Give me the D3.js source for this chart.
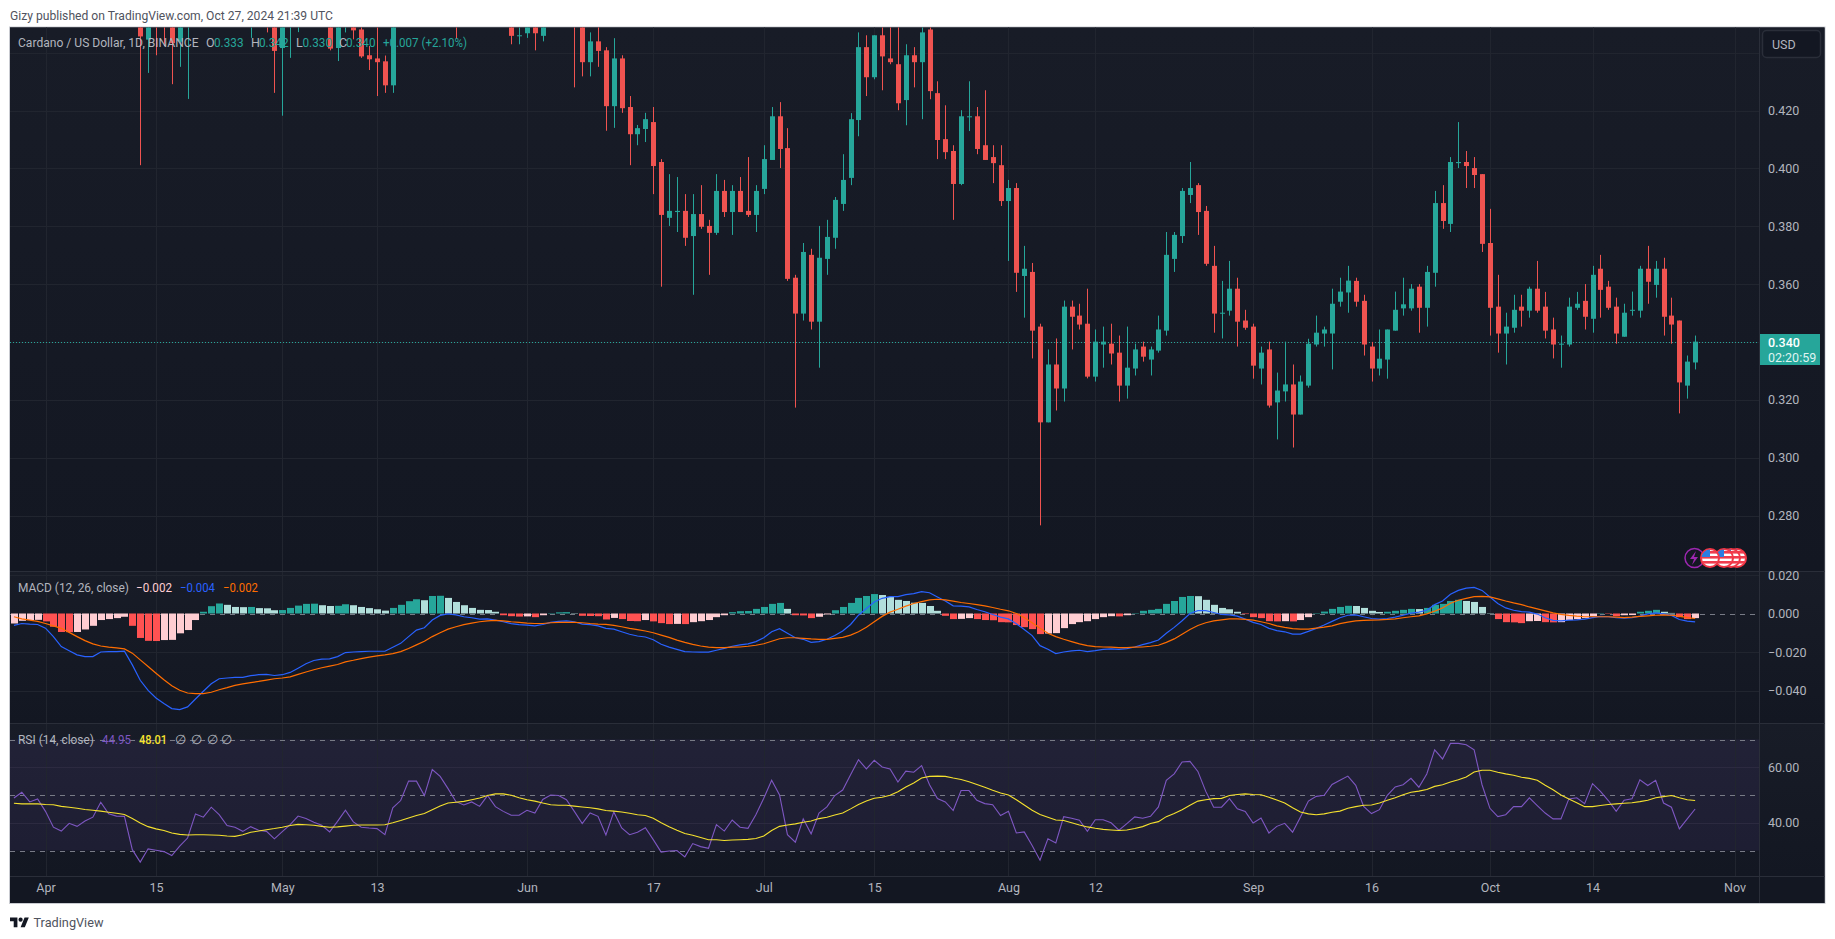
<!DOCTYPE html>
<html><head><meta charset="utf-8">
<script src="https://cdnjs.cloudflare.com/ajax/libs/d3/7.8.5/d3.min.js"></script>
<style>html,body{margin:0;background:#fff;overflow:hidden}svg{display:block}text{font-family:"Roboto",sans-serif}</style>
</head><body><svg id="c" width="1835" height="939"></svg>
<script>
// ---- DATA ----
const candleStart = Date.UTC(2024, 3, 13);
const candleOpen = [.452,.4445,.458,.455,.452,.4438,.451,.456,.462,.465,.468,.472,.47,.466,.452,.458,.456,.452,.4416,.452,.455,.46,.463,.46,.455,.4416,.451,.452,.448,.4391,.438,.437,.4287,.456,.46,.463,.466,.47,.468,.462,.455,.451,.455,.458,.46,.456,.454,.452,.4459,.4467,.452,.4458,.452,.456,.46,.456,.451,.4367,.4439,
.4408,.4215,.438,.4212,.4118,.4136,.416,.4022,.3829,.3849,.3853,.3766,.3842,.3801,.3777,.3922,.3849,.3922,.3853,.3839,.3929,.4029,.418,.407,.3622,.3498,.3701,.347,.3687,.376,.3877,.3967,.4167,.4419,.4315,.446,.438,.436,.4236,.4391,.4367,.448,.426,.4101,.406,.3946,.4177,.418,.408,.4039,.4011,.3887,.3932,.3628,.3642,.3453,.3122,.3322,.3239,.3522,.3491,.3463,.328,.3391,.3394,.3363,.3249,.3308,.3384,.3339,.337,.3439,.3687,.3766,.3908,.3942,.3853,.3663,.3498,.3508,.3584,.3474,.3453,.3308,.3374,.3191,.3229,.3253,.3149,.3249,.3391,.3429,.3429,.3539,.3571,.3611,.3542,.3384,.3308,.3339,.3439,.3516,.3516,.3591,.3518,.3639,.388,.3808,.4018,.4022,.4001,.398,.3742,.3522,.3429,.3449,.3522,.3508,.3584,.3522,.3443,.3391,.3391,.3518,.3542,.348,.3653,.3591,.3522,.3418,.3508,.3508,.3653,.3597,.3653,.3491,.3474,.3249,.3329];
const candleClose = [.4456,.452,.4515,.452,.4433,.45,.456,.462,.465,.468,.472,.47,.466,.46,.458,.456,.451,.4406,.455,.457,.46,.463,.46,.456,.4414,.452,.456,.4477,.4387,.4377,.4367,.4287,.456,.46,.463,.466,.47,.468,.462,.456,.451,.455,.458,.46,.456,.454,.452,.4458,.446,.452,.4467,.452,.456,.46,.456,.451,.4367,.4439,.4406,
.4215,.438,.4208,.4118,.4139,.417,.4008,.3839,.3853,.3853,.376,.3842,.3798,.3777,.3922,.3849,.3922,.3849,.3839,.3922,.4032,.418,.4067,.3618,.3498,.3711,.347,.3691,.3763,.3891,.396,.417,.4419,.4315,.446,.4387,.4367,.4225,.4391,.4367,.447,.4267,.4098,.4056,.3946,.418,.418,.4067,.4029,.4018,.3887,.3932,.3639,.3653,.3439,.3122,.3322,.3239,.3522,.3487,.346,.328,.3401,.3401,.336,.3249,.3311,.3374,.3349,.3374,.3443,.3701,.377,.3922,.3932,.3849,.367,.3498,.3501,.3584,.347,.3449,.3318,.3363,.318,.3232,.3253,.3149,.3263,.3394,.3432,.3443,.3532,.3574,.3612,.3539,.3391,.3308,.3342,.3443,.3511,.353,.3584,.3518,.3642,.388,.3818,.4022,.4022,.4008,.3977,.3739,.3518,.3429,.3453,.3511,.3508,.3584,.3508,.3439,.3391,.3394,.3522,.3532,.3487,.3632,.358,.3518,.3429,.3501,.3511,.3653,.3608,.3653,.3487,.346,.326,.3332,.3401];
const candleHigh = [.456,.455,.46,.458,.456,.455,.46,.466,.468,.471,.475,.474,.472,.468,.462,.46,.46,.455,.458,.46,.463,.466,.466,.462,.458,.456,.46,.455,.452,.4423,.452,.439,.46,.463,.466,.469,.473,.473,.47,.464,.458,.458,.46,.463,.463,.459,.456,.456,.453,.455,.455,.455,.458,.462,.463,.46,.455,.447,.452,
.4419,.445,.4391,.425,.415,.4192,.4212,.4032,.398,.397,.3911,.3911,.3942,.3822,.398,.396,.3942,.397,.4039,.3942,.408,.4212,.4229,.4139,.3632,.3742,.3722,.3801,.3822,.3901,.4049,.4191,.447,.446,.446,.452,.452,.452,.4429,.4419,.452,.452,.4301,.4218,.408,.4201,.4301,.4212,.427,.408,.408,.396,.3949,.3732,.3673,.3463,.3374,.3412,.3543,.3543,.3532,.3584,.3443,.3453,.3463,.3422,.3453,.3394,.3401,.3384,.3491,.378,.378,.3932,.4022,.3949,.387,.3732,.3611,.368,.3622,.3511,.3463,.3384,.3401,.3294,.3401,.3322,.3284,.3411,.3491,.3453,.3584,.3622,.3663,.3622,.3563,.34,.3443,.3443,.3574,.3622,.36,.36,.3663,.3922,.3942,.4039,.416,.406,.4039,.398,.386,.3632,.3501,.3563,.3563,.3591,.368,.3573,.3484,.3422,.3553,.3573,.36,.3663,.3701,.3611,.3553,.3532,.3574,.3663,.3732,.368,.3691,.3553,.3474,.3353,.3422];
const candleLow = [.4011,.433,.4391,.4423,.4291,.4351,.424,.454,.459,.462,.465,.467,.463,.457,.4451,.454,.447,.4261,.4182,.4382,.4471,.458,.457,.453,.4408,.4371,.447,.4446,.4382,.434,.425,.4261,.4261,.453,.457,.46,.463,.465,.46,.453,.4448,.45,.453,.456,.454,.452,.451,.4429,.4429,.4451,.4408,.4439,.45,.454,.454,.428,.4318,.4318,.4351,
.413,.414,.4192,.4011,.408,.4091,.3911,.3591,.3801,.378,.3732,.3563,.3791,.3632,.377,.3832,.377,.3849,.3832,.378,.3911,.4029,.4001,.3611,.3173,.3474,.3443,.3311,.3632,.3722,.3853,.3942,.4111,.425,.4308,.427,.436,.4201,.4149,.428,.417,.4239,.4032,.4032,.3822,.3942,.4129,.4049,.4029,.3949,.387,.368,.3573,.3484,.3343,.2766,.3122,.3163,.3194,.3374,.3443,.3274,.3263,.3311,.3322,.3194,.3204,.3284,.3332,.3284,.3363,.3422,.3642,.3742,.388,.377,.3663,.3432,.3412,.3491,.3384,.3442,.3273,.3253,.3173,.3063,.3194,.3035,.3149,.3242,.3384,.3384,.3305,.3522,.3501,.3522,.3353,.3263,.3284,.3273,.3439,.3491,.3508,.3432,.3453,.3591,.3791,.378,.4001,.3932,.3932,.3711,.3422,.3363,.3322,.3432,.3453,.3484,.3501,.3412,.3343,.3311,.3384,.3511,.3443,.3432,.3484,.3511,.3394,.3418,.3491,.3484,.3532,.3553,.3422,.3394,.3153,.3204,.3305];

const paneStart = Date.UTC(2024, 2, 28);
// MACD pane values, in thousandths
const macdHist = [-5.2,-3.8,-3.4,-3.3,-4.1,-6.9,-9.6,-9.7,-9.6,-8.3,-6.4,-3.4,-2.9,-2.4,-1.7,-6.4,-12.7,-14.2,-14.3,-13.8,-13.7,-10.3,-8.6,-3.4,.9,3.8,5.2,4.5,3.4,3.3,3.4,2.8,2.7,1.7,1.8,2.9,4.1,5,5.1,4.3,3.9,4,4.8,4.3,3.4,2.8,2.2,1.5,2.9,4.5,6.4,7.4,6.9,9.1,9.2,8.1,6,4.3,2.9,1.9,1.8,.9,-.9,-1.4,-1.6,-1.5,-1.9,-.9,.2,.6,.7,.2,-1.2,-1.3,-1.4,-3.1,-2.3,-2.9,-3.9,-4,-3.4,-4.1,-5,-5.5,-5.4,-5.5,-4.5,-4,-3.4,-1.9,-.9,.7,1.2,1.3,2.4,3.4,5,5.5,2.4,-.9,-1,-2.4,-1.7,-.5,1.7,3.4,5.5,8.1,9.1,10.1,9.6,8.6,7.1,6.5,5.6,5.5,3.9,1.4,-1.2,-2.9,-2.8,-2.4,-2.9,-3.4,-3.5,-4.5,-4.6,-6,-7.1,-8.1,-10.7,-10.4,-10.2,-7.6,-5.5,-4.5,-4,-2.9,-1.9,-1.4,-1.5,-.9,.2,1.4,1.9,2.4,5,6.5,8.6,9.1,9,7.1,4.5,2.9,2.2,.9,-.3,-1.9,-2.4,-4,-4.1,-4,-4.1,-3.4,-1.9,.2,1,2.4,3.4,4,3.9,2.9,1.4,.8,.9,1.4,1.9,2.4,2.3,2.9,4.5,5,6.5,7.1,6.5,6,3.4,.2,-2.9,-4.5,-4.6,-5,-4,-3.9,-4.5,-4.6,-4.5,-3.4,-2.9,-2.4,-1.4,.2,-.2,-1.4,-.9,-.8,.9,1.4,1.9,.9,.3,-1.9,-2.9,-2.4];
const macdLine = [-6.2,-5.2,-5.5,-5.7,-7.6,-12,-17.2,-19.4,-21.5,-22.4,-22.4,-20,-19.8,-19.8,-19.6,-26.7,-34.7,-39.9,-43.9,-46.8,-49.4,-49.9,-48.5,-44.4,-40.4,-36.5,-33.9,-33.5,-33.2,-33.2,-32.3,-31.8,-31.6,-32.2,-31.8,-30.6,-28.4,-26.1,-24.4,-23.7,-23.6,-22.4,-20.3,-20,-19.8,-19.6,-19.6,-19.6,-17.5,-15.5,-12,-8.6,-7.4,-3.4,-1,-.2,-.7,-1.7,-2.2,-2.9,-2.8,-3.4,-4.3,-5.3,-5.8,-6,-6.4,-5.7,-4.6,-4.1,-3.8,-4.3,-5.5,-5.8,-6.4,-7.7,-8.1,-9.5,-10.8,-11.7,-12.2,-13.6,-16,-17.5,-18.6,-19.8,-20,-20.1,-20.1,-19.1,-18.1,-17,-16.3,-15.8,-14.6,-12.6,-9.5,-7.9,-10.3,-12.6,-13.4,-15,-14.6,-13.4,-11.4,-9.1,-5.7,-.9,2.6,6,7.9,8.8,8.8,9.8,10.3,11.4,10.8,8.6,6.5,4,3.8,3.4,2.1,.9,-.5,-1.9,-2.8,-5.3,-8.3,-11.5,-16.7,-18.6,-20.8,-20,-19.4,-19.1,-19.8,-19.3,-18.6,-18.4,-18.6,-18.2,-17.4,-16.2,-15.1,-13.8,-10.3,-7.2,-3.8,0,1.5,1.5,.5,-.5,-.7,-1.4,-2.9,-4.6,-5.7,-7.7,-8.9,-9.5,-10.7,-10.7,-9.3,-7.7,-6,-4.1,-2.2,-.9,-.7,-1.7,-2.6,-2.9,-2.6,-1.9,-.9,.2,.7,1.7,4.6,6.5,10,12,13.2,13.6,12,8.6,5.2,2.9,1.7,1,.7,-.3,-2.2,-3.6,-3.8,-3.4,-3.3,-2.9,-2.1,-1.5,-1.7,-2.2,-2.4,-2.2,-1.4,-.2,.3,-.2,-1,-3.1,-4,-4.3];
const macdSignal = [-1.7,-2.8,-3.4,-4.1,-5.2,-6.4,-7.7,-9.8,-12,-14.1,-15.8,-16.9,-17.5,-17.9,-18.4,-20.6,-24.1,-27.5,-31,-34.4,-37.5,-39.9,-41.3,-41.6,-41.6,-40.9,-39.6,-38.5,-37.3,-36.6,-35.9,-35.3,-34.6,-33.9,-33.5,-32.9,-31.6,-30.4,-29.2,-28.2,-27.3,-26.5,-25.1,-24.3,-23.4,-22.7,-22,-21.5,-20.8,-19.8,-18.2,-16.3,-14.4,-12,-10,-8.1,-6.9,-5.8,-5,-4.3,-3.8,-3.6,-3.8,-4.3,-4.6,-5,-5.2,-5.2,-4.8,-4.6,-4.6,-4.6,-4.8,-5.2,-5.5,-5.7,-6.2,-6.9,-7.7,-8.4,-9.1,-10,-11.2,-12.4,-13.8,-15,-16,-16.9,-17.5,-17.7,-17.7,-17.5,-17.4,-17,-16.5,-15.7,-14.4,-13.1,-12.6,-12.6,-12.9,-13.2,-13.4,-13.4,-12.9,-12.4,-11.2,-9.5,-7.2,-4.3,-1.5,.7,2.2,3.8,5.2,6.2,7.1,7.4,7.1,6.4,5.7,5.2,4.6,4,3.1,2.2,1.4,0,-2.1,-4.8,-7.7,-10.3,-12,-13.4,-14.6,-15.8,-16.7,-17.2,-17.4,-17.5,-17.7,-17.7,-17.5,-17.4,-17,-16.5,-15,-13.2,-10.8,-8.3,-6.2,-4.8,-3.8,-3.3,-2.8,-2.8,-3.1,-3.4,-4.3,-5.2,-6.4,-7.2,-7.9,-8.1,-8.1,-7.6,-7.1,-6.4,-5.3,-4.5,-3.8,-3.6,-3.4,-3.3,-3.1,-2.8,-2.2,-1.7,-1.2,-.2,1.2,2.9,5.3,6.9,7.9,8.8,8.9,8.6,7.6,6.5,5.5,4.6,3.4,2.4,1.4,.3,-.5,-1,-1.4,-1.7,-1.7,-1.7,-1.7,-1.9,-2.1,-1.9,-1.5,-1.2,-.9,-.7,-.9,-1.4,-2.1,-2.6];
const rsiLine = [48.9,51,47.5,48.6,44.1,38.4,37,39.8,38.7,40.6,42,47.4,43.2,42.4,42.3,30.3,25.8,30.6,30.1,29.6,28.2,31.6,34.5,43.2,42,45.6,42.9,39,38.4,36.9,38.6,37.3,36.9,34.2,36.8,39.3,42.4,41.5,40.2,39.1,36.7,40.5,44.5,40.3,38.4,38.1,37.9,35.7,45.4,48,55,55,49.8,59.2,56.7,52.3,47.6,46.4,47.5,45.9,49.8,45.8,44.1,42.7,42.7,44.5,43.5,48.4,50,49.8,48.3,44.1,39.7,43.5,42.3,35.6,43.9,38.1,35.7,36.6,38.2,33.9,29.4,29.8,30,27.7,32.5,31.4,30.8,39.3,37,41,38.4,38,42.9,48.8,55.3,50,35.7,33,41.4,36,43.5,45.7,49.8,51.8,57.3,62.7,59.4,62.5,60.1,59.4,54.7,58.6,58.2,60.6,53.7,48.7,47.5,44.4,51.6,51.6,48.1,46.9,46.5,42.6,44.1,36.3,36.7,31.8,26.5,34.2,32.7,42.2,41.6,40.9,36.9,41.1,41.1,40,37.3,39.7,42.1,41.6,42.3,45.7,55.3,57.6,61.9,62.1,58.5,51.3,45.6,45.6,48.7,45,44.1,39.9,41.7,36.3,38.7,39.8,36.6,42.1,47.8,49.5,49.9,53.8,55.3,56.8,53.5,45.9,43.3,44.7,49.9,52.9,53.7,56,52.8,57.6,66.3,63,68.6,68.6,68.1,66.3,53.7,45.2,42.2,42.9,45.8,45.8,49,46.2,43.5,41.4,41.4,48.6,49,46.9,54.1,51.3,48,44.1,48.1,48.6,55.5,53.4,55.3,47.1,45.6,37.8,41.4,44.95];
const rsiAverage = [47,46.8,46.8,46.8,46.6,46.5,45.9,45.6,45.2,44.8,44.5,44.2,43.8,43.4,43,41.5,39.9,38.6,37.8,37.2,36.3,35.8,35.6,35.7,35.7,35.6,35.5,35.2,35.1,35.7,36.6,37,37.5,37.9,38.4,39,39.4,39.3,39.1,38.7,38.4,38.5,38.8,39.1,39.2,39.2,39.2,39.3,40,40.8,41.7,42.6,43.3,44.7,46,47.1,47.4,47.7,48.3,48.9,49.8,50.4,50.4,49.9,49,48.3,47.8,47.1,46.5,46.3,46.3,46,45.7,45.4,45,44.4,44.2,43.9,43.4,42.9,42.6,41.6,40,38.6,37.3,36.1,35.5,34.7,33.9,33.9,33.6,33.8,33.9,34,34.3,35.2,37.2,38.7,39.2,39.6,40.2,40.6,41.5,42,42.8,43.5,45,46.6,47.8,48.8,49.2,49.9,51.2,52.9,54.3,56.1,56.7,56.8,56.7,56.1,55.6,54.8,53.8,52.8,51.7,50.7,50,48.3,46.4,44.5,43,42,41,40.8,40,39.2,38.5,38,37.6,37.4,37.2,37.4,37.9,38.6,39.7,40.4,42.2,43.3,44.7,46.3,47.8,48.3,48.7,48.8,49.8,50.2,50.4,50.2,50.1,49.2,48.2,47.1,45.4,43.9,43.2,42.9,43.2,43.8,44.2,45.2,45.8,46.3,46.4,47.1,48.1,49,50.1,51,51.4,52,53.1,53.7,54.7,55.5,56.5,58.3,58.9,58.9,58.2,57.6,57.1,56.4,56,55.3,53.5,51.9,50,48.6,47.2,45.8,45.8,46.2,46.6,46.8,47,47.2,47.6,48.1,49,49.4,49.8,49,48.3,48.01];

const priceTicks = [0.44,0.42,0.40,0.38,0.36,0.34,0.32,0.30,0.28];
const macdTicks = [20,-20,-40];
const rsiGridTicks = [60,40];
const rsiBands = [70,50,30];
const timeTicks = [[3,1,"Apr"],[3,15,"15"],[4,1,"May"],[4,13,"13"],[5,1,"Jun"],[5,17,"17"],[6,1,"Jul"],[6,15,"15"],[7,1,"Aug"],[7,12,"12"],[8,1,"Sep"],[8,16,"16"],[9,1,"Oct"],[9,14,"14"],[10,1,"Nov"]];
const lastPrice = 0.340;

// ---- LAYOUT ----
const L=10,R=1760,FR=1825,T=27.5,PB=571,MB=723,RB=876,B=903;
const DAY=864e5;
const TEAL="#26a69a",RED="#ef5350",TXT="#b2b5be",GRID="#21252f",SEP="#2a2e39";
const svg=d3.select("#c");
const x=d3.scaleUtc().domain([Date.UTC(2024,3,1),Date.UTC(2024,10,1)]).range([45.5,1734.6]);
const yP=d3.scaleLinear().domain([.28,.42]).range([515.5,110.5]);
const yM=d3.scaleLinear().domain([-40,20]).range([690.5,575]);
const yR=d3.scaleLinear().domain([30,70]).range([850.5,739.5]);
const px=v=>Math.round(v)+.5;

const defs=svg.append("defs");
const grad=defs.append("linearGradient").attr("id","bg").attr("x1",0).attr("y1",0).attr("x2",0).attr("y2",1);
grad.append("stop").attr("offset",0).attr("stop-color","#181c27");
grad.append("stop").attr("offset",1).attr("stop-color","#131722");
[["cp",T,PB],["cm",PB,MB],["cr",MB,RB]].forEach(([id,a,b])=>defs.append("clipPath").attr("id",id).append("rect").attr("x",L).attr("y",a).attr("width",R-L).attr("height",b-a));

// frame + panes
svg.append("rect").attr("x",9.5).attr("y",27).attr("width",FR-9.5).attr("height",B-27+.5).attr("fill","#131722").attr("stroke","#c9cbd1").attr("stroke-width",1);
[[T,PB],[PB,MB],[MB,RB]].forEach(([a,b])=>{
  svg.append("rect").attr("x",L).attr("y",a).attr("width",FR-L-.5).attr("height",b-a).attr("fill","url(#bg)");
});
svg.append("rect").attr("x",L).attr("y",RB).attr("width",FR-L-.5).attr("height",B-RB).attr("fill","#131722");

// RSI band
svg.append("rect").attr("x",L).attr("y",yR(70)).attr("width",R-L).attr("height",yR(30)-yR(70)).attr("fill","#7e57c2").attr("fill-opacity",.1);

// grid
const vg=svg.append("g").attr("class","vgrid");
const tickDates=timeTicks.map(t=>new Date(Date.UTC(2024,t[0],t[1])));
[[T,PB],[PB,MB],[MB,RB]].forEach(([a,b])=>{
  vg.selectAll(null).data(tickDates).join("line").attr("x1",d=>px(x(d))).attr("x2",d=>px(x(d))).attr("y1",a).attr("y2",b).attr("stroke",GRID);
});
const hline=(g,data,scale,col,dash)=>g.selectAll(null).data(data).join("line").attr("x1",L).attr("x2",R).attr("y1",d=>px(scale(d))).attr("y2",d=>px(scale(d))).attr("stroke",col).attr("stroke-dasharray",dash||null);
const hg=svg.append("g");
hline(hg,priceTicks,yP,GRID);
hline(hg,macdTicks,yM,GRID);
hline(hg,rsiGridTicks,yR,"#2c2a40");
hline(hg,[0],yM,"#787b86","5,5");
hline(hg,rsiBands,yR,"#787b86","5,5");

// price line (dotted)
svg.append("line").attr("x1",L).attr("x2",R).attr("y1",px(yP(lastPrice))).attr("y2",px(yP(lastPrice))).attr("stroke",TEAL).attr("stroke-dasharray","1,2");

// candles
const candles=candleOpen.map((o,i)=>({date:new Date(candleStart+i*DAY),o,c:candleClose[i],h:candleHigh[i],l:candleLow[i]}));
const cg=svg.append("g").attr("clip-path","url(#cp)").selectAll("g").data(candles).join("g").attr("fill",d=>d.c>=d.o?TEAL:RED);
cg.append("rect").attr("x",d=>Math.round(x(d.date))).attr("width",1).attr("y",d=>yP(d.h)).attr("height",d=>yP(d.l)-yP(d.h));
cg.append("rect").attr("x",d=>Math.round(x(d.date))-2).attr("width",5).attr("y",d=>yP(Math.max(d.o,d.c))).attr("height",d=>Math.max(1,Math.abs(yP(d.o)-yP(d.c))));

// MACD
const paneDate=i=>new Date(paneStart+i*DAY);
const histColor=(v,i)=>{const p=i?macdHist[i-1]:v+1;return v>=0?(v>p?"#26a69a":"#b2dfdb"):(v>p||i===0?"#ffcdd2":"#ff5252");};
svg.append("g").attr("clip-path","url(#cm)").selectAll("rect").data(macdHist).join("rect")
  .attr("x",(d,i)=>Math.round(x(paneDate(i))-3))
  .attr("width",7)
  .attr("y",d=>Math.min(yM(0),yM(d)))
  .attr("height",d=>Math.abs(yM(d)-yM(0)))
  .attr("fill",histColor);
const lineM=d3.line().x((d,i)=>x(paneDate(i))).y(d=>yM(d));
const lineR=d3.line().x((d,i)=>x(paneDate(i))).y(d=>yR(d));
const gm=svg.append("g").attr("clip-path","url(#cm)").attr("fill","none").attr("stroke-width",1.2);
gm.append("path").attr("d",lineM(macdLine)).attr("stroke","#2962ff");
gm.append("path").attr("d",lineM(macdSignal)).attr("stroke","#ff6d00");
const gr=svg.append("g").attr("clip-path","url(#cr)").attr("fill","none").attr("stroke-width",1.1);
gr.append("path").attr("d",lineR(rsiLine)).attr("stroke","#7e57c2");
gr.append("path").attr("d",lineR(rsiAverage)).attr("stroke","#f5e12e");

// axis separators
svg.append("line").attr("x1",px(R)-1).attr("x2",px(R)-1).attr("y1",T).attr("y2",B).attr("stroke",SEP);
[PB,MB,RB].forEach(v=>svg.append("line").attr("x1",L).attr("x2",FR-.5).attr("y1",v+.5).attr("y2",v+.5).attr("stroke",SEP));

// axes
const fs=12.5;
const styleAxis=g=>{g.select(".domain").remove();g.selectAll(".tick line").remove();g.selectAll("text").attr("fill",TXT).attr("font-size",fs).attr("font-family","Roboto");};
svg.append("g").attr("transform",`translate(${R+8},0)`).call(d3.axisRight(yP).tickValues(priceTicks.filter(v=>v!==.44&&v!==.34)).tickFormat(d3.format(".3f")).tickSize(0).tickPadding(0)).call(styleAxis);
svg.append("g").attr("transform",`translate(${R+8},0)`).call(d3.axisRight(yM).tickValues([20,0,-20,-40]).tickFormat(v=>(v<0?"\u2212":"")+d3.format(".3f")(Math.abs(v)/1000)).tickSize(0).tickPadding(0)).call(styleAxis);
svg.append("g").attr("transform",`translate(${R+8},0)`).call(d3.axisRight(yR).tickValues(rsiGridTicks).tickFormat(d3.format(".2f")).tickSize(0).tickPadding(0)).call(styleAxis);
svg.append("g").attr("transform",`translate(0,${RB+7})`).call(d3.axisBottom(x).tickValues(tickDates).tickFormat((d,i)=>timeTicks[i][2]).tickSize(0).tickPadding(0)).call(styleAxis);

// price tag
svg.append("rect").attr("x",R).attr("y",334).attr("width",60).attr("height",31).attr("fill",TEAL);
const t=(s,xx,yy,col,size,extra={})=>{const n=svg.append("text").attr("x",xx).attr("y",yy).attr("fill",col).attr("font-size",size||fs).attr("dominant-baseline","central").text(s);Object.entries(extra).forEach(([k,v])=>n.attr(k,v));return n;};
t(d3.format(".3f")(lastPrice),R+8,342.5,"#ffffff",fs,{"font-weight":500});
t("02:20:59",R+8,357,"#dff3f1",fs);

// USD button
svg.append("rect").attr("x",1762.5).attr("y",30.5).attr("width",58).attr("height",27).attr("rx",4).attr("fill","#131722").attr("stroke","#2a2e39").attr("stroke-width",1.5);
t("USD",1772,44.5,TXT,fs);

// legends
t("Gizy published on TradingView.com, Oct 27, 2024 21:39 UTC",10,15,"#50535e",fs,{textLength:323,lengthAdjust:"spacingAndGlyphs"});
const tl=(s,a,b,yy,col,extra={})=>t(s,a,yy,col,fs,{textLength:b-a,lengthAdjust:"spacingAndGlyphs",...extra});
const LEG="#b2b5be";
tl("Cardano / US Dollar, 1D, BINANCE",18,198.5,42,LEG);
[["O","0.333",206,214],["H","0.342",251,259],["L","0.330",296,302.5],["C","0.340",339,346]].forEach(([k,v,a,b])=>{
  t(k,a,42,LEG); tl(v,b,b+29.5,42,TEAL);
});
tl("+0.007 (+2.10%)",383,467,42,TEAL);
tl("MACD (12, 26, close)",18,129,587,LEG);
tl("\u22120.002",136,172,587,"#ffcdd2");
tl("\u22120.004",180,215,587,"#2962ff");
tl("\u22120.002",223,258,587,"#ff6d00");
tl("RSI (14, close)",18,94,739,LEG);
tl("44.95",102,131,739,"#7e57c2");
tl("48.01",139,167,739,"#f5e12e",{"font-weight":500});
[175,191,207,221].forEach(a=>t("\u2205",a,739,LEG,fs));

// event icons
const ev=svg.append("g");
ev.append("circle").attr("cx",1694.5).attr("cy",558).attr("r",9.5).attr("fill","#131722").attr("stroke","#9c27b0").attr("stroke-width",1.5);
ev.append("path").attr("d","M1696 551l-6 8h4l-2 6 6-8h-4z").attr("fill","#9c27b0");
[1737,1731,1724,1710].forEach((cx,i)=>{
  const id="fl"+i;
  defs.append("clipPath").attr("id",id).append("circle").attr("cx",cx).attr("cy",558).attr("r",8.5);
  const g=ev.append("g");
  g.append("circle").attr("cx",cx).attr("cy",558).attr("r",9).attr("fill","#fff").attr("stroke","#f23645").attr("stroke-width",2);
  const s=g.append("g").attr("clip-path",`url(#${id})`);
  [551,556,561,566].forEach(yy=>s.append("rect").attr("x",cx-9).attr("y",yy).attr("width",18).attr("height",2.6).attr("fill","#ef3c4e"));
  s.append("rect").attr("x",cx-9).attr("y",549).attr("width",9).attr("height",8).attr("fill","#2a7de1");
});

// TradingView logo
const logo=svg.append("g").attr("transform","translate(10,915.5) scale(.53)").attr("fill","#131722");
logo.append("path").attr("d","M14 22H7V11H0V4h14v18zM28 22h-8l7.5-18h8L28 22z");
logo.append("circle").attr("cx",20).attr("cy",8).attr("r",4);
t("TradingView",33.5,922,"#50535e",13,{textLength:70,lengthAdjust:"spacingAndGlyphs"});
</script></body></html>
